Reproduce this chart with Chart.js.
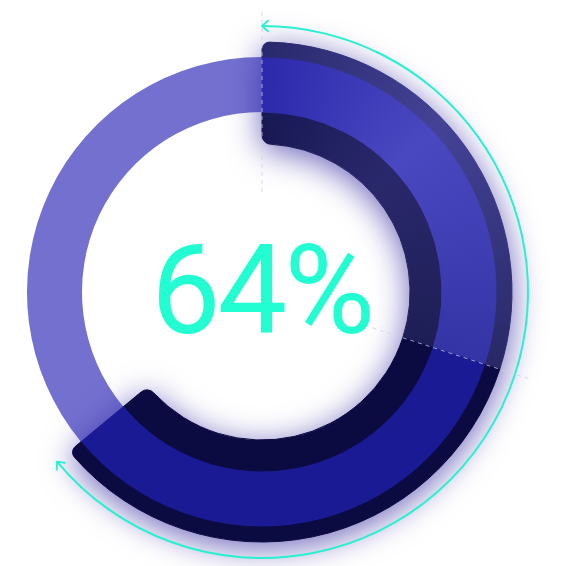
<!DOCTYPE html>
<html lang="en">
<head>
    <meta charset="UTF-8">
    <title>64% progress ring</title>
    <script src="https://cdn.jsdelivr.net/npm/chart.js"></script>
    <style>
        html, body { margin: 0; padding: 0; background: #fff; }
        #wrap { position: relative; width: 585px; height: 566px; }
        #wrap canvas { position: absolute; left: 0; top: 0; }
        /* glow under the progress arc only */
        #ringChart { filter: drop-shadow(0 6px 16px rgba(50, 40, 160, 0.7)); }
    </style>
</head>
<body>
<div id="wrap">
    <canvas id="trackChart" width="585" height="566"></canvas>
    <canvas id="ringChart" width="585" height="566"></canvas>
    <canvas id="arrowChart" width="585" height="566"></canvas>
</div>

<script>
    // chart values
    const segLabels = ['Part 1', 'Part 2', 'Remaining'];
    const segValues = [30, 34, 36];
    const progressValue = segValues[0] + segValues[1];

    const clear = 'rgba(0,0,0,0)';
    const layoutPad = { left: 12, right: 73, top: 42, bottom: 24 };

    // cutout is given as a share of the outer radius
    function baseOptions(radius, cutout) {
        return {
            responsive: false,
            animation: false,
            events: [],
            radius: radius,
            cutout: cutout,
            layout: { padding: layoutPad },
            plugins: { legend: { display: false }, tooltip: { enabled: false } }
        };
    }

    // conic gradient starting at 12 o'clock, around the chart centre
    function conic(chart, stops) {
        const area = chart.chartArea;
        if (!area) return stops[0][1];
        const cx = (area.left + area.right) / 2;
        const cy = (area.top + area.bottom) / 2;
        const g = chart.ctx.createConicGradient(-Math.PI / 2, cx, cy);
        stops.forEach(s => g.addColorStop(s[0], s[1]));
        return g;
    }

    function bandColor(firstStops, secondColor) {
        return (c) => {
            if (c.dataIndex === 0) return conic(c.chart, firstStops);
            if (c.dataIndex === 1) return secondColor;
            return clear;
        };
    }

    // light track under everything
    new Chart(document.getElementById('trackChart'), {
        type: 'doughnut',
        data: {
            labels: segLabels,
            datasets: [{
                data: segValues,
                backgroundColor: ['#7370d0', '#7370d0', '#7370d0'],
                borderWidth: 0
            }]
        },
        options: baseOptions(235, '76.6%')
    });

    // progress arc: outer band, middle band, inner band
    const outerCol = bandColor([[0, 'rgb(40,40,108)'], [0.13, 'rgb(68,66,150)'], [0.3, 'rgb(40,40,102)']], '#0b0b42');
    const midCol = bandColor([[0, 'rgb(44,42,172)'], [0.13, 'rgb(74,72,192)'], [0.3, 'rgb(52,52,166)']], '#1a1a95');
    const innerCol = bandColor([[0, 'rgb(24,24,84)'], [0.13, 'rgb(42,40,108)'], [0.3, 'rgb(30,30,86)']], '#0b0b42');

    new Chart(document.getElementById('ringChart'), {
        type: 'doughnut',
        data: {
            labels: segLabels,
            datasets: [
                {
                    data: segValues,
                    weight: 15,
                    backgroundColor: outerCol,
                    borderColor: outerCol,
                    borderWidth: 1,
                    borderRadius: [{ outerStart: 8 }, { outerEnd: 8 }, {}]
                },
                {
                    data: segValues,
                    weight: 55,
                    backgroundColor: midCol,
                    borderColor: midCol,
                    borderWidth: 1
                },
                {
                    data: segValues,
                    weight: 32,
                    backgroundColor: innerCol,
                    borderColor: innerCol,
                    borderWidth: 1,
                    borderRadius: [{ innerStart: 9 }, { innerEnd: 9 }, {}]
                }
            ]
        },
        options: baseOptions(250, '59.2%')
    });

    function drawHead(ctx, cx, cy, r, a, dir) {
        const tx = cx + r * Math.cos(a);
        const ty = cy + r * Math.sin(a);
        // direction the arrow points (clockwise tangent times dir)
        const ux = -Math.sin(a) * dir;
        const uy = Math.cos(a) * dir;
        const len = 8, spread = 0.72;
        ctx.beginPath();
        [spread, -spread].forEach(s => {
            const bx = -(ux * Math.cos(s) - uy * Math.sin(s));
            const by = -(ux * Math.sin(s) + uy * Math.cos(s));
            ctx.moveTo(tx + len * bx, ty + len * by);
            ctx.lineTo(tx, ty);
        });
        ctx.stroke();
    }

    // text with tighter spacing, drawn char by char
    function tightText(ctx, text, cx, y, gap) {
        const chars = text.split('');
        const widths = chars.map(ch => ctx.measureText(ch).width);
        const total = widths.reduce((a, b) => a + b, 0) + gap * (chars.length - 1);
        let x = cx - total / 2;
        ctx.textAlign = 'left';
        chars.forEach((ch, i) => {
            ctx.fillText(ch, x, y);
            x += widths[i] + gap;
        });
    }

    const marksPlugin = {
        id: 'marks',
        afterDatasetsDraw(chart) {
            const ctx = chart.ctx;
            const arcs = chart.getDatasetMeta(0).data;
            const first = arcs[0], second = arcs[1];
            const cx = first.x, cy = first.y;
            const r = (first.innerRadius + first.outerRadius) / 2;

            // dashed guides at the start of each part
            ctx.save();
            ctx.setLineDash([4, 4]);
            ctx.lineWidth = 1;
            ctx.strokeStyle = 'rgba(205,205,232,0.75)';
            [first.startAngle, second.startAngle].forEach(a => {
                ctx.beginPath();
                ctx.moveTo(cx + 100 * Math.cos(a), cy + 100 * Math.sin(a));
                ctx.lineTo(cx + 280 * Math.cos(a), cy + 280 * Math.sin(a));
                ctx.stroke();
            });
            ctx.restore();

            // arrow heads on the outer arc
            ctx.save();
            ctx.strokeStyle = '#28f0d0';
            ctx.lineWidth = 1.8;
            ctx.lineCap = 'round';
            drawHead(ctx, cx, cy, r, first.startAngle, -1);
            drawHead(ctx, cx, cy, r, second.endAngle, 1);
            ctx.restore();

            // centre label
            ctx.save();
            ctx.fillStyle = '#22fdd2';
            ctx.font = '400 124px Roboto, Inter, sans-serif';
            ctx.textBaseline = 'alphabetic';
            tightText(ctx, progressValue + '%', cx + 1, cy + 41, -3);
            ctx.restore();
        }
    };

    // thin arrow arc outside the ring
    new Chart(document.getElementById('arrowChart'), {
        type: 'doughnut',
        data: {
            labels: segLabels,
            datasets: [{
                data: segValues,
                backgroundColor: ['#28f0d0', '#28f0d0', clear],
                borderWidth: 0
            }]
        },
        options: baseOptions(267, '99.25%'),
        plugins: [marksPlugin]
    });
</script>
</body>
</html>
